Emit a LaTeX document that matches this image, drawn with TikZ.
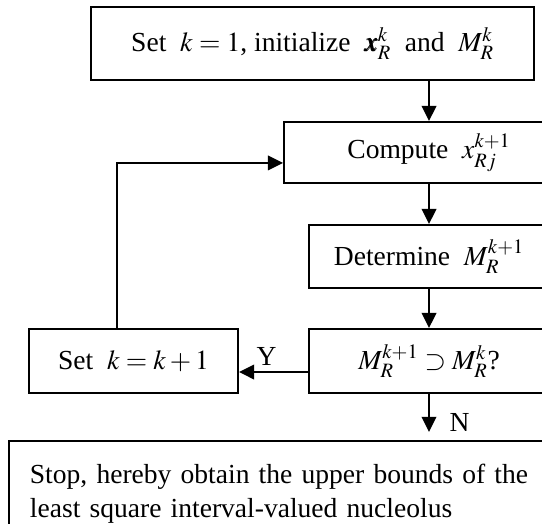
\documentclass[tikz,border=0pt]{standalone}
\usepackage{mathptmx}
\usepackage{bm}
\usepackage{fontspec}
\setmainfont{Liberation Serif}
\usepackage{tikz}
\usetikzlibrary{arrows.meta, positioning}

\begin{document}
\begin{tikzpicture}[
  box/.style={draw, line width=1.3pt, font=\fontsize{19.6}{24.4}\selectfont},
  flow/.style={-{Triangle[length=3.8mm, width=3.6mm]}, line width=1.8pt},
  lbl/.style={font=\fontsize{19.6}{24.4}\selectfont, inner sep=1pt}
]
\clip (0,0) rectangle (13.55,-13.075);

\node[box, minimum width=11.075cm, minimum height=1.825cm] (init) at (7.8125,-1.0875)
  {Set~~$k=1$, initialize~~$\bm{x}_R^k$~~and~~$M_R^k$};
\node[box, minimum width=7.25cm, minimum height=1.525cm] (comp) at (10.725,-3.8125)
  {Compute~~$x_{Rj}^{k+1}$};
\node[box, minimum width=6cm, minimum height=1.575cm] (det) at (10.725,-6.4125)
  {Determine~~$M_R^{k+1}$};
\node[box, minimum width=6cm, minimum height=1.6cm] (cond) at (10.725,-9.025)
  {$M_R^{k+1}\supset M_R^k$?};
\node[box, minimum width=5.225cm, minimum height=1.6cm] (setk) at (3.3375,-9.025)
  {Set~~$k=k+1$};
\node[box, anchor=north west, text width=13.25cm, inner xsep=0.525cm, align=left,
  minimum height=2.09cm, text depth=0.45cm] (stop) at (0.2,-11.0)
  {Stop, hereby obtain the upper bounds of the\\least square interval-valued nucleolus};

\draw[flow] (init.south -| comp.north) -- (comp.north);
\draw[flow] (comp.south) -- (det.north);
\draw[flow] (det.south) -- (cond.north);
\draw[flow, shorten >=0.2cm] (cond.south) -- (stop.north -| cond.south)
  node[lbl, pos=0.62, right=0.45cm] {N};
\draw[flow] ([yshift=-0.275cm]cond.west) -- ([yshift=-0.275cm]setk.east)
  node[lbl, pos=0.6, above=0.1cm] {Y};
\draw[flow] ([xshift=-0.41cm]setk.north) |- ([yshift=-0.26cm]comp.west);
\end{tikzpicture}
\end{document}
